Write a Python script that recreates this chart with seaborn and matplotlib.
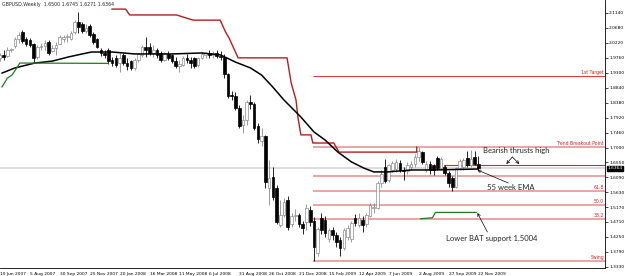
import numpy as np
import pandas as pd
import matplotlib
matplotlib.use("Agg")
import matplotlib.pyplot as plt
import matplotlib.transforms as mtransforms
import seaborn as sns

# ---------------- data ----------------
opens = [1.975, 1.985, 1.982, 2.000, 2.012, 2.035, 2.055, 2.035, 2.030, 2.018,
         1.978, 2.008, 2.012, 2.025, 1.998, 2.005, 2.020, 2.035, 2.040, 2.035,
         2.055, 2.085, 2.080, 2.060, 2.075, 2.050, 2.035, 2.000, 1.990, 2.000,
         1.968, 1.975, 1.960, 1.985, 1.960, 1.965, 1.945, 1.968, 1.985, 2.010,
         2.010, 1.990, 2.000, 1.992, 1.970, 1.988, 1.985, 1.965, 1.950, 1.955,
         1.975, 1.968, 1.975, 1.955, 1.975, 1.985, 1.990, 1.985, 1.990, 1.982,
         1.980, 1.925, 1.862, 1.860, 1.822, 1.770, 1.785, 1.840, 1.835, 1.765,
         1.720, 1.735, 1.575, 1.610, 1.576, 1.462, 1.492, 1.539, 1.466, 1.490,
         1.492, 1.466, 1.470, 1.508, 1.475, 1.375, 1.483, 1.477, 1.420, 1.445,
         1.430, 1.415, 1.392, 1.424, 1.420, 1.483, 1.462, 1.477, 1.466, 1.490,
         1.515, 1.515, 1.590, 1.640, 1.600, 1.632, 1.635, 1.652, 1.632, 1.628,
         1.640, 1.648, 1.672, 1.685, 1.630, 1.650, 1.645, 1.667, 1.637, 1.640,
         1.622, 1.605, 1.580, 1.637, 1.640, 1.668, 1.645, 1.670, 1.6500]
highs = [1.990, 2.000, 2.009, 2.006, 2.040, 2.055, 2.062, 2.040, 2.037, 2.022,
         2.016, 2.022, 2.031, 2.031, 2.016, 2.025, 2.046, 2.046, 2.048, 2.058,
         2.092, 2.116, 2.085, 2.080, 2.079, 2.055, 2.037, 2.006, 2.000, 2.006,
         1.980, 1.985, 1.990, 1.992, 1.976, 1.970, 1.976, 1.992, 2.016, 2.040,
         2.022, 2.016, 2.005, 1.996, 1.994, 1.996, 1.988, 1.979, 1.970, 1.981,
         1.988, 1.978, 1.978, 1.980, 1.995, 1.995, 2.000, 1.996, 2.000, 1.996,
         1.988, 1.930, 1.875, 1.870, 1.830, 1.800, 1.846, 1.862, 1.840, 1.775,
         1.760, 1.740, 1.662, 1.640, 1.585, 1.539, 1.545, 1.550, 1.500, 1.510,
         1.500, 1.475, 1.527, 1.520, 1.485, 1.455, 1.500, 1.490, 1.452, 1.455,
         1.440, 1.425, 1.452, 1.462, 1.475, 1.495, 1.500, 1.488, 1.500, 1.530,
         1.530, 1.598, 1.630, 1.666, 1.650, 1.660, 1.665, 1.662, 1.640, 1.655,
         1.660, 1.680, 1.702, 1.690, 1.660, 1.658, 1.650, 1.675, 1.672, 1.645,
         1.628, 1.612, 1.640, 1.665, 1.668, 1.690, 1.692, 1.690, 1.6745]
lows = [1.966, 1.969, 1.978, 1.994, 2.006, 2.022, 2.022, 2.014, 2.009, 1.963,
        1.972, 2.000, 2.000, 1.985, 1.994, 1.985, 2.018, 2.025, 2.025, 2.031,
        2.050, 2.052, 2.052, 2.052, 2.040, 2.018, 2.005, 1.982, 1.976, 1.958,
        1.952, 1.948, 1.932, 1.955, 1.940, 1.940, 1.940, 1.963, 1.979, 1.979,
        1.985, 1.979, 1.976, 1.963, 1.965, 1.969, 1.960, 1.945, 1.932, 1.952,
        1.960, 1.945, 1.945, 1.948, 1.972, 1.975, 1.976, 1.975, 1.976, 1.970,
        1.914, 1.853, 1.846, 1.815, 1.760, 1.745, 1.770, 1.820, 1.754, 1.715,
        1.705, 1.575, 1.523, 1.540, 1.465, 1.455, 1.485, 1.445, 1.455, 1.475,
        1.455, 1.435, 1.445, 1.460, 1.3503, 1.365, 1.435, 1.425, 1.410, 1.415,
        1.395, 1.365, 1.385, 1.415, 1.410, 1.460, 1.455, 1.440, 1.455, 1.485,
        1.500, 1.510, 1.580, 1.590, 1.595, 1.625, 1.625, 1.625, 1.600, 1.620,
        1.630, 1.640, 1.660, 1.650, 1.625, 1.620, 1.615, 1.630, 1.630, 1.615,
        1.580, 1.565, 1.575, 1.630, 1.632, 1.640, 1.640, 1.645, 1.6271]
closes = [1.985, 1.980, 2.000, 2.002, 2.035, 2.045, 2.028, 2.020, 2.015, 1.975,
          2.010, 2.012, 2.022, 1.992, 2.005, 2.015, 2.040, 2.040, 2.042, 2.052,
          2.085, 2.072, 2.058, 2.068, 2.045, 2.025, 2.010, 1.990, 1.985, 1.966,
          1.960, 1.955, 1.975, 1.960, 1.950, 1.945, 1.970, 1.988, 2.010, 2.000,
          1.990, 2.000, 1.985, 1.968, 1.988, 1.975, 1.965, 1.950, 1.958, 1.976,
          1.968, 1.960, 1.950, 1.975, 1.988, 1.992, 1.985, 1.990, 1.982, 1.980,
          1.925, 1.860, 1.860, 1.822, 1.765, 1.785, 1.840, 1.835, 1.760, 1.725,
          1.735, 1.595, 1.607, 1.548, 1.471, 1.492, 1.531, 1.455, 1.490, 1.493,
          1.466, 1.452, 1.515, 1.471, 1.395, 1.448, 1.446, 1.437, 1.446, 1.430,
          1.410, 1.392, 1.446, 1.452, 1.468, 1.468, 1.483, 1.462, 1.492, 1.523,
          1.518, 1.592, 1.620, 1.598, 1.645, 1.652, 1.655, 1.632, 1.628, 1.645,
          1.650, 1.672, 1.690, 1.655, 1.648, 1.630, 1.630, 1.637, 1.665, 1.622,
          1.590, 1.580, 1.637, 1.660, 1.662, 1.645, 1.665, 1.650, 1.6364]

date_labels = ["10 Jun 2007", "5 Aug 2007", "30 Sep 2007", "25 Nov 2007", "20 Jan 2008",
               "16 Mar 2008", "11 May 2008", "6 Jul 2008", "31 Aug 2008", "26 Oct 2008",
               "21 Dec 2008", "15 Feb 2009", "12 Apr 2009", "7 Jun 2009", "2 Aug 2009",
               "27 Sep 2009", "22 Nov 2009"]
price_ticks = [2.1140, 2.0680, 2.0220, 1.9760, 1.9300, 1.8840, 1.8380, 1.7920, 1.7460,
               1.7000, 1.6550, 1.6090, 1.5630, 1.5170, 1.4710, 1.4250, 1.3790, 1.3330]

# 55 week EMA (week index, price)
ema_week = [0.5, 4, 9.3, 14, 18.4, 22, 24.5, 30, 36, 46, 54, 59, 63, 67, 70, 73, 76,
            80.5, 84, 87, 90.4, 94, 97.3, 100, 103.7, 110, 116, 128]
ema_price = [1.929, 1.945, 1.960, 1.966, 1.979, 1.988, 1.994, 1.994, 1.988, 1.988, 1.991,
             1.985, 1.963, 1.945, 1.923, 1.886, 1.846, 1.794, 1.748, 1.723, 1.686, 1.656,
             1.637, 1.625, 1.625, 1.631, 1.631, 1.634]

# green support lines
green1_week = [0.5, 2, 3.2, 4.5, 5.3, 29]
green1_price = [1.886, 1.914, 1.923, 1.945, 1.960, 1.959]
green2_week = [112.5, 115.7, 116.5, 127.5]
green2_price = [1.481, 1.484, 1.5004, 1.5004]

# dark red trailing line
red_week = [29.9, 33.6, 34.7, 47.2, 51.7, 58.9, 60.5, 61.3, 63.7, 76.8, 77.9, 79.2,
            79.7, 80.5, 83.2, 83.7, 89.3, 90.7, 111.5, 111.5]
red_price = [2.126, 2.126, 2.108, 2.108, 2.092, 2.092, 2.052, 2.037, 1.976, 1.976,
             1.899, 1.846, 1.794, 1.739, 1.739, 1.714, 1.714, 1.686, 1.686, 1.702]

# horizontal levels
level_names = ["1st Target", "Trend Breakout Point", "", "61.8", "50.0", "38.2", "Swing"]
level_prices = [1.920, 1.702, 1.6125, 1.566, 1.523, 1.480, 1.3503]
level_start = 83.7
bearish_high = 1.646
bearish_start = 118.7
current_price = 1.6364

# ---------------- figure ----------------
sns.set_style("white")
plt.rcParams["font.family"] = ["DejaVu Sans"]

W, H = 625, 276
fig = plt.figure(figsize=(W / 100, H / 100), dpi=100)
ax = fig.add_axes([0, 8 / H, 605 / W, 268 / H])

def wk(px):
    return (px + 2) / 3.75

def pr(py):
    return 2.114 - (py - 13) / 325.0

ax.set_xlim(wk(0), wk(605))
ax.set_ylim(pr(268), pr(0))

# current price line
ax.axhline(current_price, color="#d9d9d9", lw=1.3, zorder=0)

# levels
xmax = wk(605)
for name, p in zip(level_names, level_prices):
    if name == "1st Target":
        col, lw = "#e23c3c", 0.8
    else:
        col, lw = "#e58b8b", 1.1
    ax.plot([level_start, xmax], [p, p], color=col, lw=lw, zorder=1, solid_capstyle="butt")
    if name:
        ax.text(wk(604), p + 0.004, name, color="#d42020", fontsize=3.3,
                ha="right", va="bottom", zorder=5)
ax.plot([bearish_start, xmax], [bearish_high, bearish_high], color="#c83232", lw=0.8, zorder=1)
ax.plot([bearish_start, bearish_start], [bearish_high, current_price - 0.002],
        color="#c83232", lw=0.6, zorder=1)

# candles
o = np.array(opens); h = np.array(highs); l = np.array(lows); c = np.array(closes)
idx = np.arange(len(o))
bull = c >= o
ax.vlines(idx[bull], l[bull], h[bull], color="#8a8a8a", lw=0.6, zorder=3)
ax.vlines(idx[~bull], l[~bull], h[~bull], color="black", lw=0.6, zorder=3)
body_bottom = np.minimum(o, c)
body_h = np.maximum(np.abs(c - o), 0.0015)
ax.bar(idx[bull], body_h[bull], bottom=body_bottom[bull], width=0.7,
       color="white", edgecolor="#8a8a8a", lw=0.5, zorder=3)
ax.bar(idx[~bull], body_h[~bull], bottom=body_bottom[~bull], width=0.7,
       color="black", edgecolor="black", lw=0.5, zorder=3)

# lines via seaborn
sns.lineplot(x=red_week, y=red_price, ax=ax, color="#b41e1e", lw=1.0,
             sort=False, estimator=None, zorder=4)
sns.lineplot(x=ema_week, y=ema_price, ax=ax, color="black", lw=1.1,
             sort=False, estimator=None, zorder=4)
sns.lineplot(x=green1_week, y=green1_price, ax=ax, color="#217a21", lw=0.9,
             sort=False, estimator=None, zorder=4)
sns.lineplot(x=green2_week, y=green2_price, ax=ax, color="#217a21", lw=0.9,
             sort=False, estimator=None, zorder=4)

# annotations
arrow = dict(arrowstyle="->", color="black", lw=0.5, shrinkA=0, shrinkB=0,
             mutation_scale=5)
ax.text(wk(516), pr(150), "Bearish thrusts high", fontsize=5.5, ha="center",
        va="center", family="Lato")
ax.annotate("", xy=(wk(506), pr(164)), xytext=(wk(512), pr(157)), arrowprops=arrow)
ax.annotate("", xy=(wk(519), pr(164)), xytext=(wk(512), pr(157)), arrowprops=arrow)
ax.text(wk(510), pr(188), "55 week EMA", fontsize=5.5, ha="center", va="center",
        family="Lato")
ax.annotate("", xy=(wk(477), pr(170)), xytext=(wk(508), pr(183)), arrowprops=arrow)
ax.text(wk(491), pr(238), "Lower BAT support 1.5004", fontsize=5.5, ha="center",
        va="center", family="Lato")
ax.annotate("", xy=(wk(477), pr(213)), xytext=(wk(487), pr(232)), arrowprops=arrow)

# axes styling
for s in ["left", "top"]:
    ax.spines[s].set_visible(False)
for s in ["right", "bottom"]:
    ax.spines[s].set_color("black")
    ax.spines[s].set_linewidth(0.6)
ax.yaxis.tick_right()
ax.set_yticks(price_ticks)
ax.set_yticklabels([f"{v:.4f}" for v in price_ticks])
ax.tick_params(axis="y", length=2, width=0.5, labelsize=3.2, pad=1, colors="black")
ax.set_xticks(np.arange(0, 129, 8))
ax.set_xticklabels(date_labels, ha="left")
ax.tick_params(axis="x", length=2, width=0.5, labelsize=3.2, pad=1, colors="black")
ax.set_xlabel("")
ax.set_ylabel("")
ax.grid(False)

# current price marker on the axis
trans = mtransforms.blended_transform_factory(ax.transAxes, ax.transData)
ax.text(1.004, current_price, "1.6364", transform=trans, fontsize=3.2, color="white",
        ha="left", va="center",
        bbox=dict(boxstyle="square,pad=0.15", fc="black", ec="black"), clip_on=False)

fig.text(2 / W, 1 - 2 / H, "GBPUSD,Weekly  1.6500 1.6745 1.6271 1.6364", fontsize=3.4,
         ha="left", va="top")

fig.savefig("out.png", dpi=100, facecolor="white")
